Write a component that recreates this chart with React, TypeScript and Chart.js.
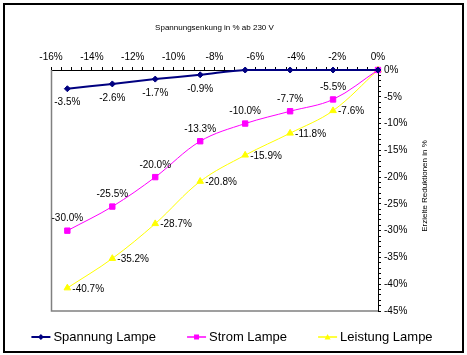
import { useEffect, useRef } from 'react';
import { Chart, registerables } from 'chart.js';

Chart.register(...registerables);

// ---- data ----
const voltageDrop = [-15.2, -13.0, -10.9, -8.7, -6.5, -4.3, -2.2, 0];
const spannungLampe = [-3.5, -2.6, -1.7, -0.9, 0, 0, 0, 0];
const stromLampe = [-30.0, -25.5, -20.0, -13.3, -10.0, -7.7, -5.5, 0];
const leistungLampe = [-40.7, -35.2, -28.7, -20.8, -15.9, -11.8, -7.6, 0];
const seriesLabels = ['Spannung Lampe', 'Strom Lampe', 'Leistung Lampe'];
const seriesColors = ['#000080', '#FF00FF', '#FFFF00'];
const seriesMarkers = ['rectRot', 'rect', 'triangle'];
const xAxisTitle = 'Spannungsenkung in % ab 230 V';
const yAxisTitle = 'Erzielte Reduktionen in %';
const xMin = -16;
const xMax = 0;
const yMin = -45;
const yMax = 0;

const FONT = '"Liberation Sans", Arial, sans-serif';

const framePlugin = {
  id: 'frame',
  beforeDraw(chart: any) {
    const { ctx, width, height } = chart;
    ctx.save();
    ctx.fillStyle = '#fff';
    ctx.fillRect(0, 0, width, height);
    ctx.strokeStyle = '#000';
    ctx.lineWidth = 2;
    ctx.strokeRect(4, 4, width - 8, height - 7);
    ctx.restore();
  },
  beforeDatasetsDraw(chart: any) {
    const { ctx, chartArea } = chart;
    ctx.save();
    ctx.strokeStyle = '#808080';
    ctx.lineWidth = 1.5;
    ctx.beginPath();
    ctx.moveTo(chartArea.left + 0.5, chartArea.top);
    ctx.lineTo(chartArea.left + 0.5, chartArea.bottom);
    ctx.lineTo(chartArea.right, chartArea.bottom);
    ctx.stroke();
    ctx.restore();
  },
};

const valueLabelPlugin = {
  id: 'valueLabels',
  afterDatasetsDraw(chart: any) {
    const ctx = chart.ctx;
    ctx.save();
    ctx.font = `10px ${FONT}`;
    ctx.fillStyle = '#000';
    chart.data.datasets.forEach((ds: any, di: number) => {
      const meta = chart.getDatasetMeta(di);
      meta.data.forEach((el: any, i: number) => {
        const v = ds.data[i].y;
        if (v === 0) return;
        const text = v.toFixed(1) + '%';
        ctx.textBaseline = 'middle';
        if (di === 0) {
          ctx.textAlign = 'center';
          ctx.fillText(text, el.x, el.y + 14);
        } else if (di === 1) {
          ctx.textAlign = 'center';
          ctx.fillText(text, el.x, el.y - 12);
        } else {
          ctx.textAlign = 'left';
          ctx.fillText(text, el.x + 5, el.y + 1);
        }
      });
    });
    ctx.restore();
  },
};

function drawMarker(ctx: CanvasRenderingContext2D, style: string, x: number, y: number, color: string) {
  ctx.fillStyle = color;
  ctx.beginPath();
  if (style === 'rectRot') {
    ctx.moveTo(x, y - 3);
    ctx.lineTo(x + 3, y);
    ctx.lineTo(x, y + 3);
    ctx.lineTo(x - 3, y);
  } else if (style === 'rect') {
    ctx.rect(x - 2.5, y - 2.5, 5, 5);
  } else {
    ctx.moveTo(x, y - 3);
    ctx.lineTo(x + 3, y + 2.5);
    ctx.lineTo(x - 3, y + 2.5);
  }
  ctx.closePath();
  ctx.fill();
}

const legendPlugin = {
  id: 'customLegend',
  afterDraw(chart: any) {
    const ctx = chart.ctx;
    ctx.save();
    ctx.font = `13px ${FONT}`;
    const sample = 19;
    const gapText = 3;
    const gapItem = 31;
    const widths = chart.data.datasets.map((ds: any) => sample + gapText + ctx.measureText(ds.label).width);
    const total = widths.reduce((a: number, b: number) => a + b, 0) + gapItem * (widths.length - 1);
    let x = 232 - total / 2;
    const y = 337;
    chart.data.datasets.forEach((ds: any, i: number) => {
      ctx.strokeStyle = ds.borderColor;
      ctx.lineWidth = i === 0 ? 2 : 1.5;
      ctx.beginPath();
      ctx.moveTo(x, y);
      ctx.lineTo(x + sample, y);
      ctx.stroke();
      drawMarker(ctx, seriesMarkers[i], x + sample / 2, y, ds.borderColor);
      ctx.fillStyle = '#000';
      ctx.textAlign = 'left';
      ctx.textBaseline = 'middle';
      ctx.fillText(ds.label, x + sample + gapText, y);
      x += widths[i] + gapItem;
    });
    ctx.restore();
  },
};

const yTitlePlugin = {
  id: 'yTitle',
  afterDraw(chart: any) {
    const ctx = chart.ctx;
    ctx.save();
    ctx.translate(425, 186);
    ctx.rotate(-Math.PI / 2);
    ctx.font = `8px ${FONT}`;
    ctx.fillStyle = '#000';
    ctx.textAlign = 'center';
    ctx.textBaseline = 'middle';
    ctx.fillText(yAxisTitle, 0, 0);
    ctx.restore();
  },
};

export default function App() {
  const ref = useRef<HTMLCanvasElement>(null);
  useEffect(() => {
    document.body.style.margin = '0';
    const seriesValues = [spannungLampe, stromLampe, leistungLampe];
    const datasets = seriesValues.map((vals, i) => ({
      label: seriesLabels[i],
      data: vals.map((v, j) => ({ x: voltageDrop[j], y: v })),
      borderColor: seriesColors[i],
      backgroundColor: seriesColors[i],
      borderWidth: i === 0 ? 2 : 1,
      pointStyle: seriesMarkers[i],
      pointRadius: i === 0 ? 3 : 3.8,
      pointBorderWidth: 1,
      pointBackgroundColor: seriesColors[i],
      pointBorderColor: seriesColors[i],
      tension: 0.35,
      clip: false,
      fill: false,
    }));
    const chart = new Chart(ref.current!, {
      type: 'line',
      data: { datasets } as any,
      options: {
        responsive: false,
        animation: false,
        layout: { padding: { left: 51, right: 0, top: 0, bottom: 44 } },
        plugins: {
          legend: { display: false },
          tooltip: { enabled: false },
        },
        scales: {
          x: {
            type: 'linear',
            position: 'top',
            min: xMin,
            max: xMax,
            afterFit: (s: any) => {
              s.height = 70;
            },
            ticks: {
              stepSize: 0.5,
              autoSkip: false,
              maxRotation: 0,
              padding: 4,
              color: '#000',
              font: { size: 10, family: FONT },
              callback: (v: any) => (Math.abs(v % 2) < 1e-6 ? `${Math.round(v)}%` : ''),
            },
            grid: { drawOnChartArea: false, drawTicks: true, tickLength: 3, color: '#000' },
            border: { color: '#000', width: 1 },
            title: {
              display: true,
              text: xAxisTitle,
              color: '#000',
              font: { size: 8, family: FONT },
              padding: { top: 23, bottom: 0 },
            },
          },
          y: {
            type: 'linear',
            position: 'right',
            min: yMin,
            max: yMax,
            afterFit: (s: any) => {
              s.width = 89;
            },
            ticks: {
              stepSize: 1,
              autoSkip: false,
              padding: 3,
              color: '#000',
              font: { size: 10, family: FONT },
              callback: (v: any) => (Math.abs(v % 5) < 1e-6 ? `${Math.round(v)}%` : ''),
            },
            grid: { drawOnChartArea: false, drawTicks: true, tickLength: 3, color: '#000' },
            border: { color: '#000', width: 1 },
          },
        },
      } as any,
      plugins: [framePlugin, valueLabelPlugin, legendPlugin, yTitlePlugin],
    });
    return () => chart.destroy();
  }, []);
  return (
    <div style={{ width: 467, height: 355 }}>
      <canvas ref={ref} width={467} height={355} style={{ display: 'block' }} />
    </div>
  );
}
